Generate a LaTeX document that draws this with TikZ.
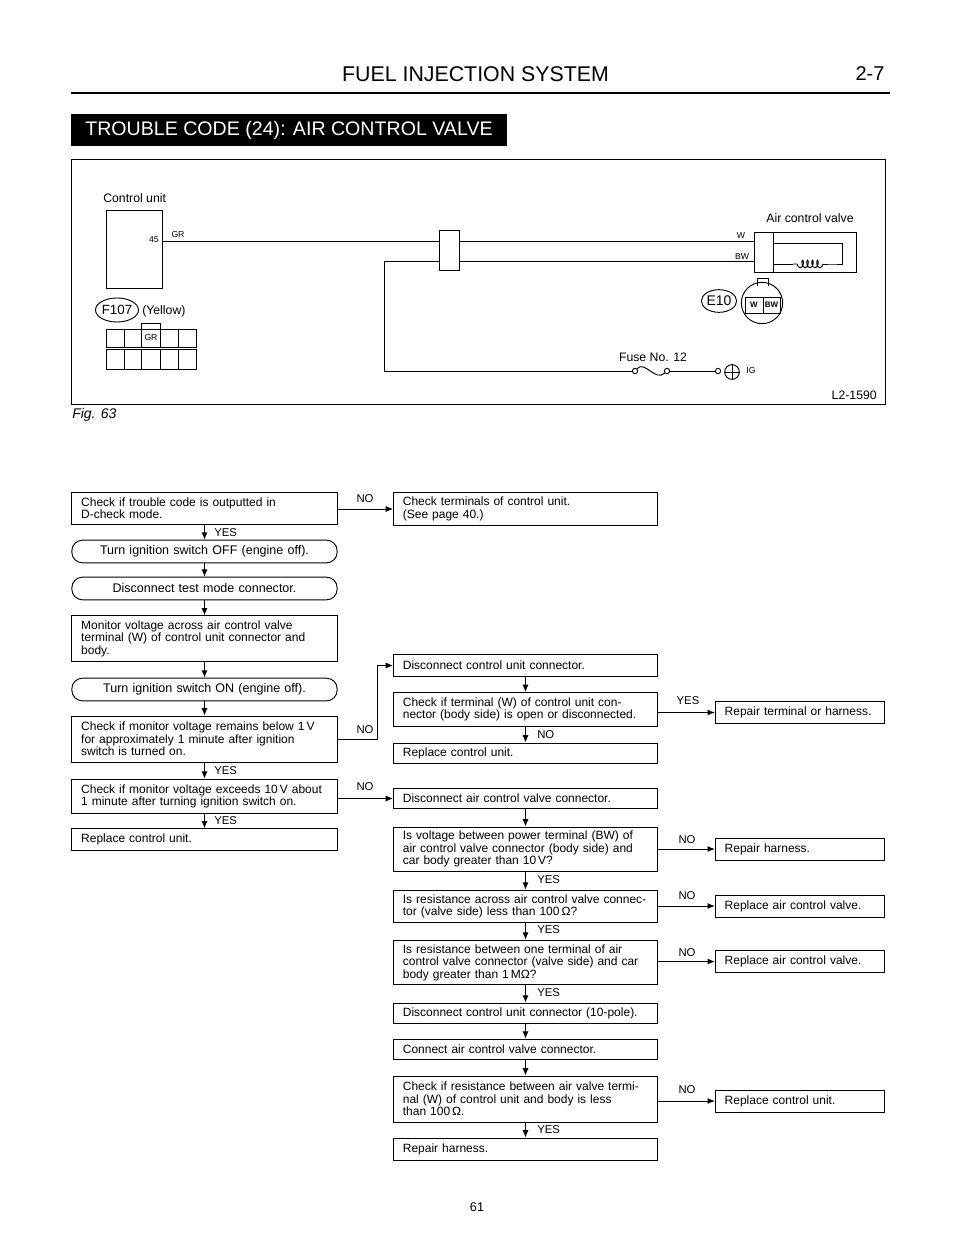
\documentclass[tikz,border=0pt]{standalone}
\usepackage{fontspec}
\setmainfont{Liberation Sans}
\usetikzlibrary{arrows.meta,decorations.pathmorphing,shapes.geometric}
\tikzset{
  flowbox/.style={draw,line width=0.7pt,inner xsep=7pt,inner ysep=0pt,align=left,font=\fontsize{9}{9.4}\selectfont},
  leftbox/.style={flowbox,text width=185pt,minimum width=199pt},
  midbox/.style={flowbox,text width=184pt,minimum width=198pt},
  sidebox/.style={flowbox,text width=113pt,minimum width=127pt},
  pillbox/.style={flowbox,rounded corners=8pt,align=center,text width=185pt,minimum width=199pt,font=\fontsize{9.4}{9.4}\selectfont},
  flow/.style={line width=0.7pt,-{Latex[length=5.5pt,width=4.5pt]}},
  wire/.style={line width=0.7pt},
  flowlbl/.style={inner sep=0pt,anchor=west,font=\fontsize{8.5}{10}\selectfont},
  smalllbl/.style={inner sep=0pt,font=\fontsize{9.2}{11}\selectfont},
  pinlbl/.style={inner sep=0pt,font=\fontsize{6.5}{8}\selectfont},
  tinylbl/.style={inner sep=0pt,font=\fontsize{6}{7}\selectfont\bfseries},
}
\begin{document}
\begin{tikzpicture}[x=0.75pt,y=-0.75pt]
\useasboundingbox (0,0) rectangle (960,1241);
% heading
\node (pagetitle) at (475.5,74) [inner sep=0pt,font=\fontsize{16}{18}\selectfont] {FUEL INJECTION SYSTEM};
\node (pageno) at (870,74) [inner sep=0pt,font=\fontsize{15}{17}\selectfont] {2-7};
\draw[line width=2pt] (71,93) -- (890,93);
\node (banner) at (289,130) [fill=black,text=white,minimum width=327pt,minimum height=24pt,inner sep=0pt,font=\fontsize{14.7}{17}\selectfont] {TROUBLE CODE (24): AIR CONTROL VALVE};
% wiring frame
\draw[line width=0.7pt] (71,159) rectangle (885,404);
\node (figlbl) at (72,415) [inner sep=0pt,anchor=west,font=\fontsize{10.5}{12}\selectfont\itshape] {Fig. 63};
\node (codelbl) at (877,395) [smalllbl,anchor=east] {L2-1590};
\node (ctrllbl) at (103,198) [smalllbl,anchor=west] {Control unit};
\node (ctrlunit) at (134,249.5) [draw,wire,minimum width=42pt,minimum height=59pt,inner sep=0pt] {};
\node (pinno) at (159,240) [pinlbl,anchor=east] {45};
\node (grlbl) at (178,235) [pinlbl] {GR};
\node (jointbox) at (449.5,250.5) [draw,wire,minimum width=14.5pt,minimum height=29.5pt,inner sep=0pt] {};
\node (valvebox) at (805,252.5) [draw,wire,minimum width=76.5pt,minimum height=29.5pt,inner sep=0pt] {};
\node (valvelbl) at (810,218) [smalllbl] {Air control valve};
\coordinate (pina) at (162,241);
\coordinate (pinb) at (384,261.5);
\coordinate (pinc) at (754,241);
\coordinate (pind) at (754,261.5);
\draw[wire] (pina) -- (pina -| jointbox.west);
\draw[wire] (pina -| jointbox.east) -- (pinc);
\draw[wire] (pinb) -- (pinb -| jointbox.west);
\draw[wire] (pinb -| jointbox.east) -- (pind);
\node (wlbl) at (741,236) [pinlbl] {W};
\node (bwlbl) at (742,257) [pinlbl] {BW};
\draw[wire] (773,233) -- (773,272);
\draw[wire] (773,243) -- (842,243) -- (842,264) -- (832,264) -- (823,264);
\draw[wire,decorate,decoration={coil,aspect=0.5,segment length=3.7pt,amplitude=2.8pt}] (823,264) -- (793,264);
\draw[wire] (793,264) -- (773,264);
% lower wire with fuse
\node (fusea) at (635,371) [draw,wire,circle,inner sep=0pt,minimum size=4pt] {};
\node (fuseb) at (667,371) [draw,wire,circle,inner sep=0pt,minimum size=4pt] {};
\node (fusec) at (718,371) [draw,wire,circle,inner sep=0pt,minimum size=4pt] {};
\node (ignplus) at (732,372) [draw,wire,circle,inner sep=0pt,minimum size=11pt] {};
\draw[wire] (ignplus.north) -- (ignplus.south) (ignplus.west) -- (ignplus.east);
\node (iglbl) at (751,371) [pinlbl] {IG};
\node (fuselbl) at (653,357) [smalllbl] {Fuse No. 12};
\draw[wire] (pinb) -- (384,371) -- (fusea);
\draw[wire] (fusea) .. controls (645,360) and (655,382) .. (fuseb);
\draw[wire] (fuseb) -- (fusec);
% connector E10
\node (eten) at (719,301) [draw,wire,ellipse,inner sep=0pt,minimum width=25pt,minimum height=17pt,font=\fontsize{10.5}{12}\selectfont] {E10};
\node (eplug) at (762,303) [draw,wire,circle,inner sep=0pt,minimum size=31pt] {};
\draw[wire] (757,286) -- (757,278) -- (768,278) -- (768,286);
\draw[wire] (745,297) rectangle (780,313);
\draw[wire] (763,297) -- (763,313);
\node (ewlbl) at (754,305) [tinylbl] {W};
\node (ebwlbl) at (771.5,305) [tinylbl] {BW};
% connector F107
\node (ften) at (117,310) [draw,wire,ellipse,inner sep=0pt,minimum width=29pt,minimum height=18pt,font=\fontsize{10}{12}\selectfont] {F107};
\node (yellowlbl) at (142,311) [smalllbl,anchor=west] {(Yellow)};
\draw[wire] (106,329) rectangle (196,347);
\draw[wire] (106,349) rectangle (196,369);
\draw[wire] (124,329) -- (124,347) (141,323) -- (141,347) (160,323) -- (160,347) (178,329) -- (178,347);
\draw[wire] (124,349) -- (124,369) (141,349) -- (141,369) (160,349) -- (160,369) (178,349) -- (178,369);
\draw[wire] (141,323) -- (160,323);
\node (fgrlbl) at (151,338) [pinlbl] {GR};
% left column
\node (chkcode) at (204.5,508) [leftbox,minimum height=24pt] {Check if trouble code is outputted in\\D-check mode.};
\node (ignoff) at (204.5,551.5) [pillbox,minimum height=17pt] {Turn ignition switch OFF (engine off).};
\node (testconn) at (204.5,588.5) [pillbox,minimum height=17pt] {Disconnect test mode connector.};
\node (monitor) at (204.5,638.5) [leftbox,minimum height=34pt] {Monitor voltage across air control valve\\terminal (W) of control unit connector and\\body.};
\node (ignon) at (204.5,689.5) [pillbox,minimum height=17pt] {Turn ignition switch ON (engine off).};
\node (chkmon) at (204.5,739) [leftbox,minimum height=34.5pt] {Check if monitor voltage remains below 1\,V\\for approximately 1 minute after ignition\\switch is turned on.};
\node (chkexc) at (204.5,796.5) [leftbox,minimum height=26pt] {Check if monitor voltage exceeds 10\,V about\\1 minute after turning ignition switch on.};
\node (replunit) at (204.5,839.5) [leftbox,minimum height=16pt] {Replace control unit.};
\draw[flow] (chkcode) -- (ignoff);
\draw[flow] (ignoff) -- (testconn);
\draw[flow] (testconn) -- (monitor);
\draw[flow] (monitor) -- (ignon);
\draw[flow] (ignon) -- (chkmon);
\draw[flow] (chkmon) -- (chkexc);
\draw[flow] (chkexc) -- (replunit);
\node (yesa) at (214,533) [flowlbl] {YES};
\node (yesb) at (214,771) [flowlbl] {YES};
\node (yesc) at (214,821) [flowlbl] {YES};
% middle column
\node (chkterm) at (525.5,509) [midbox,minimum height=24.5pt] {Check terminals of control unit.\\(See page 40.)};
\node (discunit) at (525.5,665.5) [midbox,minimum height=16.5pt] {Disconnect control unit connector.};
\node (chkopen) at (525.5,709.5) [midbox,minimum height=25.5pt] {Check if terminal (W) of control unit con-\\nector (body side) is open or disconnected.};
\node (replmid) at (525.5,753) [midbox,minimum height=15pt] {Replace control unit.};
\node (discair) at (525.5,798.5) [midbox,minimum height=15.5pt] {Disconnect air control valve connector.};
\node (chkpower) at (525.5,849) [midbox,minimum height=33pt] {Is voltage between power terminal (BW) of\\air control valve connector (body side) and\\car body greater than 10\,V?};
\node (chkacross) at (525.5,906.5) [midbox,minimum height=24.5pt] {Is resistance across air control valve connec-\\tor (valve side) less than 100\,Ω?};
\node (chkbody) at (525.5,962.5) [midbox,minimum height=33.5pt] {Is resistance between one terminal of air\\control valve connector (valve side) and car\\body greater than 1\,MΩ?};
\node (discpole) at (525.5,1013.5) [midbox,minimum height=15.5pt] {Disconnect control unit connector (10-pole).};
\node (connair) at (525.5,1049.5) [midbox,minimum height=15.5pt] {Connect air control valve connector.};
\node (chkless) at (525.5,1099) [midbox,minimum height=34.5pt] {Check if resistance between air valve termi-\\nal (W) of control unit and body is less\\than 100\,Ω.};
\node (repharn) at (525.5,1149) [midbox,minimum height=16.5pt] {Repair harness.};
\draw[flow] (discunit) -- (chkopen);
\draw[flow] (chkopen) -- (replmid);
\draw[flow] (discair) -- (chkpower);
\draw[flow] (chkpower) -- (chkacross);
\draw[flow] (chkacross) -- (chkbody);
\draw[flow] (chkbody) -- (discpole);
\draw[flow] (discpole) -- (connair);
\draw[flow] (connair) -- (chkless);
\draw[flow] (chkless) -- (repharn);
\node (noa) at (537,735) [flowlbl] {NO};
\node (yesd) at (537,880) [flowlbl] {YES};
\node (yese) at (537,930) [flowlbl] {YES};
\node (yesf) at (537,993) [flowlbl] {YES};
\node (yesg) at (537,1130) [flowlbl] {YES};
% right column
\node (reptermb) at (800,712.5) [sidebox,minimum height=16pt] {Repair terminal or harness.};
\node (repharnb) at (800,849) [sidebox,minimum height=16.5pt] {Repair harness.};
\node (replvala) at (800,906) [sidebox,minimum height=16.5pt] {Replace air control valve.};
\node (replvalb) at (800,961.5) [sidebox,minimum height=17pt] {Replace air control valve.};
\node (replunitb) at (800,1101) [sidebox,minimum height=16.5pt] {Replace control unit.};
% side connectors
\draw[flow] (chkcode.east |- chkterm.west) -- (chkterm.west);
\draw[flow] (chkmon.east) -- ++(40,0) |- (discunit.west);
\draw[flow] (chkexc.east |- discair.west) -- (discair.west);
\draw[flow] (chkopen.east |- reptermb.west) -- (reptermb.west);
\draw[flow] (chkpower.east |- repharnb.west) -- (repharnb.west);
\draw[flow] (chkacross.east |- replvala.west) -- (replvala.west);
\draw[flow] (chkbody.east |- replvalb.west) -- (replvalb.west);
\draw[flow] (chkless.east |- replunitb.west) -- (replunitb.west);
\node (nob) at (365,499) [flowlbl,anchor=center] {NO};
\node (noc) at (365,730) [flowlbl,anchor=center] {NO};
\node (nod) at (365,787) [flowlbl,anchor=center] {NO};
\node (yesh) at (688,701) [flowlbl,anchor=center] {YES};
\node (noe) at (687,840) [flowlbl,anchor=center] {NO};
\node (nof) at (687,896) [flowlbl,anchor=center] {NO};
\node (nog) at (687,953) [flowlbl,anchor=center] {NO};
\node (noh) at (687,1090) [flowlbl,anchor=center] {NO};
\node (folio) at (477,1207) [inner sep=0pt,font=\fontsize{9.5}{11}\selectfont] {61};
\end{tikzpicture}
\end{document}
